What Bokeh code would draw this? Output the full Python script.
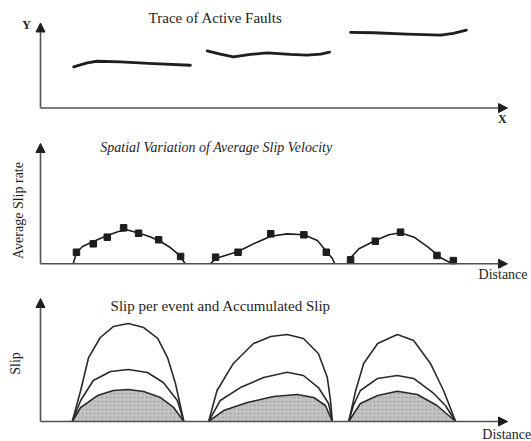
from bokeh.plotting import figure
from bokeh.layouts import column
from bokeh.models import Range1d, Arrow, NormalHead, Label
from bokeh.embed import file_html
from bokeh.resources import INLINE
import math

# ---------------- data ----------------
# Panel 1: trace of active faults (X = distance 0..100, Y = 0..100)
fault1_x = [7.1, 10.0, 12.1, 17.1, 24.2, 32.1]
fault1_y = [48.3, 53.0, 55.0, 54.2, 52.3, 50.3]
fault2_x = [35.7, 38.5, 41.3, 45.0, 48.5, 53.5, 57.1, 60.0, 61.9]
fault2_y = [67.2, 63.3, 60.1, 63.0, 64.9, 63.0, 62.1, 63.3, 65.7]
fault3_x = [66.4, 71.3, 78.5, 85.7, 88.4, 91.2]
fault3_y = [89.0, 88.5, 87.0, 85.8, 87.8, 91.7]

# Panel 2: average slip rate, observations and fitted arches
rate1_x = [7.7, 11.3, 14.3, 17.8, 21.0, 25.3, 30.0]
rate1_y = [9.6, 16.6, 22.1, 29.9, 25.4, 20.0, 6.1]
rate2_x = [37.5, 42.3, 49.3, 56.4, 61.2]
rate2_y = [5.5, 9.6, 24.9, 24.1, 9.6]
rate3_x = [66.4, 71.7, 77.1, 84.9, 88.4]
rate3_y = [3.3, 18.8, 26.3, 6.9, 2.7]

fit1_x = [7.0, 7.7, 9.0, 11.3, 14.3, 16.7, 18.6, 21.0, 23.6, 25.7, 27.8, 29.6, 31.0]
fit1_y = [0.0, 9.4, 14.4, 18.5, 23.5, 26.9, 28.1, 25.6, 22.3, 18.5, 13.5, 7.7, 0.0]
fit2_x = [36.4, 37.5, 42.3, 46.4, 49.3, 52.8, 56.4, 59.3, 61.2, 62.5, 63.0]
fit2_y = [0.0, 4.4, 10.2, 18.0, 22.9, 24.9, 24.1, 19.4, 10.5, 4.4, 0.0]
fit3_x = [65.7, 66.4, 68.2, 71.7, 74.6, 77.1, 80.0, 83.0, 85.7, 88.2]
fit3_y = [0.0, 5.0, 12.5, 19.4, 24.1, 25.8, 22.1, 13.8, 5.0, 0.0]

# Panel 3: slip per event and accumulated slip (three arches per fault)
a1_outer_x = [6.8, 8.6, 10.3, 12.8, 15.6, 18.8, 22.1, 25.1, 27.2, 28.9, 30.7]
a1_outer_y = [0.0, 25.2, 52.0, 68.3, 77.2, 79.7, 76.4, 67.5, 52.0, 30.9, 0.0]
a1_mid_x = [6.8, 8.6, 11.3, 15.0, 18.8, 22.9, 26.3, 29.3, 30.7]
a1_mid_y = [0.0, 17.1, 33.3, 40.7, 42.3, 39.8, 31.7, 17.1, 0.0]
a1_inner_x = [6.8, 8.6, 12.2, 15.6, 18.8, 22.1, 25.7, 28.5, 30.7]
a1_inner_y = [0.0, 11.4, 21.1, 25.2, 26.0, 24.4, 19.5, 11.4, 0.0]

a2_outer_x = [36.0, 37.8, 41.3, 45.6, 49.3, 52.8, 56.3, 59.5, 61.4, 62.1, 62.5]
a2_outer_y = [0.0, 25.2, 47.2, 63.4, 69.1, 70.7, 67.5, 55.3, 36.0, 17.1, 0.0]
a2_mid_x = [36.0, 38.5, 42.8, 47.8, 52.8, 56.3, 59.5, 61.7, 62.5]
a2_mid_y = [0.0, 17.1, 27.6, 35.8, 40.1, 37.4, 27.6, 14.6, 0.0]
a2_inner_x = [36.0, 39.2, 44.3, 49.9, 55.0, 58.5, 61.0, 62.5]
a2_inner_y = [0.0, 8.9, 15.4, 20.3, 22.0, 19.5, 13.0, 0.0]

a3_outer_x = [66.0, 67.5, 69.2, 72.2, 76.4, 79.9, 83.5, 86.3, 88.9]
a3_outer_y = [0.0, 25.2, 47.2, 63.4, 70.7, 65.9, 47.2, 25.2, 0.0]
a3_mid_x = [66.0, 67.0, 68.5, 72.2, 76.4, 79.9, 84.2, 86.7, 88.9]
a3_mid_y = [0.0, 13.0, 25.2, 35.0, 37.4, 35.0, 22.8, 13.0, 0.0]
a3_inner_x = [66.0, 68.5, 72.2, 76.4, 80.7, 84.9, 88.9]
a3_inner_y = [0.0, 14.6, 21.1, 24.6, 22.0, 13.0, 0.0]

# texts
title1 = "Trace of Active Faults"
title2 = "Spatial Variation of Average Slip Velocity"
title3 = "Slip per event and Accumulated Slip"
ylab1, xlab1 = "Y", "X"
ylab2, xlab2 = "Average Slip rate", "Distance"
ylab3, xlab3 = "Slip", "Distance"

# ---------------- styling ----------------
FONT = "Liberation Serif"
INK = "#1e1e1e"
AXC = "#505050"
W = 531
X0, X1 = -8.565, 105.14


def make_fig(h, y0, y1):
    p = figure(width=W, height=h, x_range=Range1d(X0, X1), y_range=Range1d(y0, y1),
               output_backend="svg", toolbar_location=None,
               x_axis_type=None, y_axis_type=None, min_border=0)
    p.outline_line_color = None
    p.background_fill_color = "white"
    p.border_fill_color = "white"
    # axes drawn as arrows
    p.add_layout(Arrow(end=NormalHead(size=9, line_color=INK, fill_color=INK),
                       x_start=0, y_start=0, x_end=100, y_end=0,
                       line_color=AXC, line_width=1.6))
    p.add_layout(Arrow(end=NormalHead(size=9, line_color=INK, fill_color=INK),
                       x_start=0, y_start=0, x_end=0, y_end=100,
                       line_color=AXC, line_width=1.6))
    return p


def label(p, x, y, text, size, align="left", baseline="middle", angle=0.0, style="normal"):
    p.add_layout(Label(x=x, y=y, text=text, text_font=FONT, text_font_size=size,
                       text_color=INK, text_align=align, text_baseline=baseline,
                       angle=angle, text_font_style=style))


# Panel 1
p1 = make_fig(128, -24.12, 126.47)
for fx, fy in [(fault1_x, fault1_y), (fault2_x, fault2_y), (fault3_x, fault3_y)]:
    p1.line(fx, fy, line_color=INK, line_width=2.8, line_cap="round", line_join="round")
label(p1, 37.5, 105.3, title1, "15px", align="center")
label(p1, -3.0, 97.1, ylab1, "12px", align="center", style="bold")
label(p1, 98.9, -12.4, xlab1, "12px", align="center", style="bold")

# Panel 2
p2 = make_fig(155, -16.38, 112.47)
for fx, fy in [(fit1_x, fit1_y), (fit2_x, fit2_y), (fit3_x, fit3_y)]:
    p2.line(fx, fy, line_color=INK, line_width=1.6, line_join="round")
for rx, ry in [(rate1_x, rate1_y), (rate2_x, rate2_y), (rate3_x, rate3_y)]:
    p2.scatter(rx, ry, marker="square", size=6.5, fill_color=INK, line_color=INK)
label(p2, 12.8, 96.7, title2, "14px", style="italic")
label(p2, -4.7, 44.3, ylab2, "14px", align="center", angle=math.pi / 2)
label(p2, 93.8, -9.2, xlab2, "14px")

# Panel 3
p3 = make_fig(158, -16.26, 112.195)
arches = [
    (a1_outer_x, a1_outer_y, a1_mid_x, a1_mid_y, a1_inner_x, a1_inner_y),
    (a2_outer_x, a2_outer_y, a2_mid_x, a2_mid_y, a2_inner_x, a2_inner_y),
    (a3_outer_x, a3_outer_y, a3_mid_x, a3_mid_y, a3_inner_x, a3_inner_y),
]
for ox, oy, mx, my, ix, iy in arches:
    p3.varea(x=ix, y1=[0] * len(ix), y2=iy, fill_color="#c4c4c4",
             hatch_pattern="dot", hatch_color="#8a8a8a", hatch_scale=4, hatch_alpha=0.6)
    p3.line(ix, iy, line_color="#2a2a2a", line_width=1.6, line_join="round")
    p3.line(mx, my, line_color="#2a2a2a", line_width=1.6, line_join="round")
    p3.line(ox, oy, line_color="#2a2a2a", line_width=1.6, line_join="round")
label(p3, 15.0, 93.5, title3, "15px")
label(p3, -5.35, 47.2, ylab3, "14px", align="center", angle=math.pi / 2)
label(p3, 94.6, -10.8, xlab3, "14px")

layout = column(p1, p2, p3)
open("out.html", "w").write(file_html(layout, INLINE))
